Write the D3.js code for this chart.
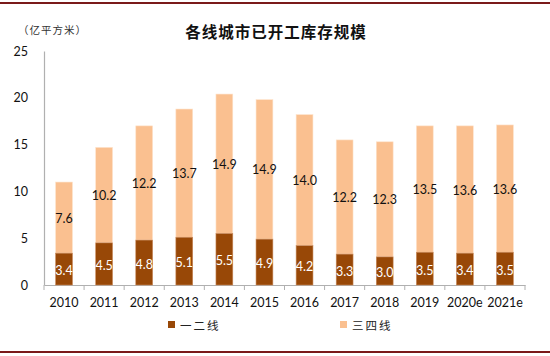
<!DOCTYPE html>
<html><head><meta charset="utf-8">
<script src="https://cdn.jsdelivr.net/npm/d3@7/dist/d3.min.js"></script>
<style>body{margin:0;background:#fff}svg{display:block}</style>
</head><body>
<script>
const years = ["2010","2011","2012","2013","2014","2015","2016","2017","2018","2019","2020e","2021e"];
const tier12 = [3.4,4.5,4.8,5.1,5.5,4.9,4.2,3.3,3.0,3.5,3.4,3.5];
const tier34 = [7.6,10.2,12.2,13.7,14.9,14.9,14.0,12.2,12.3,13.5,13.6,13.6];
const yTicks = [0,5,10,15,20,25];
const seriesNames = ["一二线","三四线"];
const colors = ["#984807","#FAC090"];

const W=550,H=356;
const svg=d3.select("body").append("svg").attr("width",W).attr("height",H);
const numFont="Lato, 'Liberation Sans', sans-serif";
const cjk="'Noto Sans CJK SC', sans-serif";

// frame lines
svg.append("rect").attr("x",0).attr("y",2).attr("width",W).attr("height",2).attr("fill","#7a1a1a");
svg.append("rect").attr("x",0).attr("y",351).attr("width",W).attr("height",2).attr("fill","#7a1a1a");

const x=d3.scaleBand().domain(years).range([44,525]).paddingInner(0.58).paddingOuter(0.29);
const y=d3.scaleLinear().domain([0,25]).range([285,51]);

// title
svg.append("text").attr("x",276).attr("y",38).attr("text-anchor","middle")
  .attr("font-family",cjk).attr("font-weight","bold").attr("font-size",15.5).attr("fill","#111")
  .attr("letter-spacing",1).text("各线城市已开工库存规模");
svg.append("text").attr("x",18).attr("y",34).attr("font-family",cjk).attr("font-size",10.5).attr("fill","#333")
  .attr("letter-spacing",1).text("（亿平方米）");

// y axis
const ya=svg.append("g").attr("transform","translate(44,0)")
  .call(d3.axisLeft(y).tickValues(yTicks).tickSize(0).tickPadding(16));
ya.select(".domain").attr("stroke","#b0b0b0").attr("stroke-width",1.2);
ya.selectAll("text").attr("font-family",numFont).attr("font-size",12.5).attr("fill","#111");

// x axis
const xa=svg.append("g").attr("transform","translate(0,285)")
  .call(d3.axisBottom(x).tickSize(0).tickPadding(13));
xa.select(".domain").attr("stroke","#b0b0b0").attr("stroke-width",1.2);
xa.selectAll("text").attr("font-family",numFont).attr("font-size",12.5).attr("fill","#111");
// category boundary ticks
const bounds=d3.range(years.length+1).map(i=>44+i*(481/years.length));
svg.append("g").selectAll("line").data(bounds).join("line")
  .attr("x1",d=>d).attr("x2",d=>d).attr("y1",285).attr("y2",290)
  .attr("stroke","#b0b0b0").attr("stroke-width",1);

// bars
const g=svg.append("g");
years.forEach((yr,i)=>{
  const b=tier12[i], t=tier34[i];
  g.append("rect").attr("x",x(yr)).attr("width",x.bandwidth())
    .attr("y",y(b+t)).attr("height",y(b)-y(b+t)).attr("fill",colors[1])
    .attr("stroke","#fde3cc").attr("stroke-width",0.6);
  g.append("rect").attr("x",x(yr)).attr("width",x.bandwidth())
    .attr("y",y(b)).attr("height",y(0)-y(b)).attr("fill",colors[0])
    .attr("stroke","#c9895a").attr("stroke-width",0.6);
  g.append("text").attr("x",x(yr)+x.bandwidth()/2).attr("y",(y(b)+y(0))/2+6)
    .attr("text-anchor","middle").attr("font-family",numFont).attr("font-size",12.5)
    .attr("fill","#fff").text(b.toFixed(1));
  g.append("text").attr("x",x(yr)+x.bandwidth()/2).attr("y",(y(b)+y(b+t))/2+5)
    .attr("text-anchor","middle").attr("font-family",numFont).attr("font-size",12.5)
    .attr("fill","#111").text(t.toFixed(1));
});

// legend
const leg=[{x:168,name:seriesNames[0],c:colors[0]},{x:340,name:seriesNames[1],c:colors[1]}];
leg.forEach(l=>{
  svg.append("rect").attr("x",l.x).attr("y",321).attr("width",7).attr("height",7).attr("fill",l.c);
  svg.append("text").attr("x",l.x+12).attr("y",329.5).attr("font-family",cjk).attr("font-size",11.5)
    .attr("letter-spacing",2).attr("fill","#222").text(l.name);
});
</script>
</body></html>
